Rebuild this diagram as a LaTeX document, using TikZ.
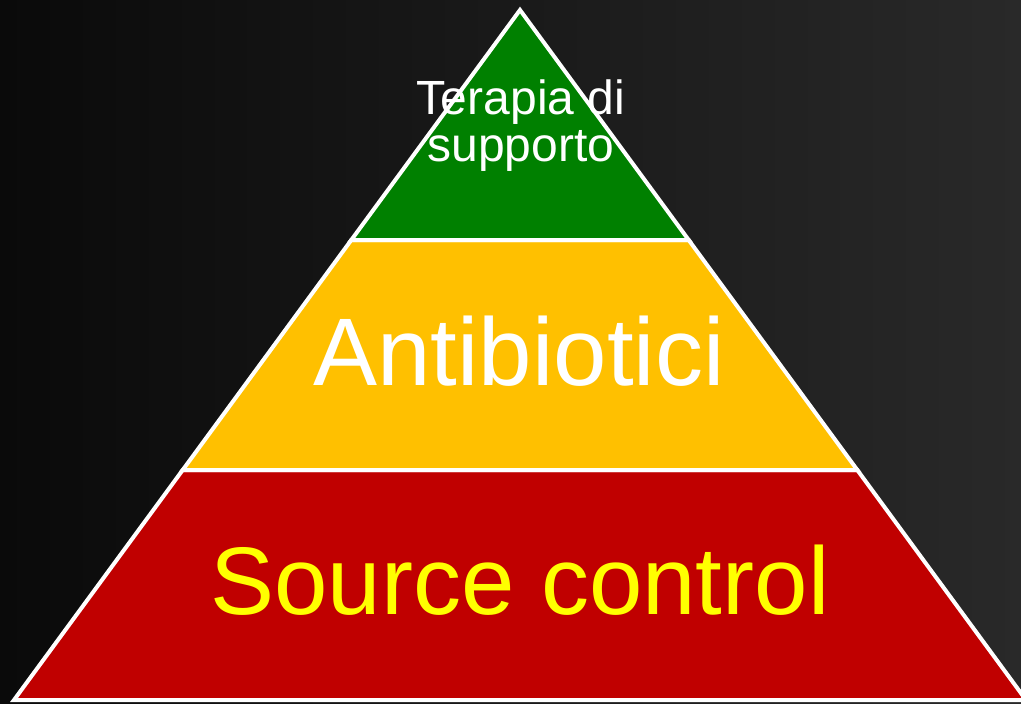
\documentclass[tikz,border=0pt]{standalone}
\usepackage{fontspec}
\setmainfont{Liberation Sans}
\definecolor{bgL}{HTML}{0A0A0A}
\definecolor{bgR}{HTML}{292929}
\definecolor{layG}{HTML}{008000}
\definecolor{layY}{HTML}{FFC000}
\definecolor{layR}{HTML}{C00000}
\definecolor{txtY}{HTML}{FFFF00}
\begin{document}
\begin{tikzpicture}[x=1pt,y=-1pt,
  layer/.style={draw=white,line width=4pt,line join=miter},
  lbl/.style={inner sep=0pt,anchor=base}]
\useasboundingbox (0,0) rectangle (1021,704);
\shade[left color=bgL,right color=bgR] (0,0) rectangle (1021,704);
\clip (0,0) rectangle (1021,704);
% corner coordinates
\coordinate (apex) at (520,10);
\coordinate (l1) at (351.3,240);
\coordinate (r1) at (688.7,240);
\coordinate (l2) at (182.7,470);
\coordinate (r2) at (857.3,470);
\coordinate (l3) at (14,700);
\coordinate (r3) at (1026,700);
% layers
\filldraw[layer,fill=layR] (l2) -- (r2) -- (r3) -- (l3) -- cycle;
\filldraw[layer,fill=layY] (l1) -- (r1) -- (r2) -- (l2) -- cycle;
\filldraw[layer,fill=layG] (apex) -- (r1) -- (l1) -- cycle;
% labels
\node[inner sep=0pt,anchor=north,align=center,text=white,font=\fontsize{48}{47}\selectfont] (top) at (521,80) {Terapia di\\supporto};
\node[lbl,text=white,font=\fontsize{96}{96}\selectfont] (mid) at (519,385) {Antibiotici};
\node[lbl,text=txtY,font=\fontsize{96}{96}\selectfont] (bot) at (520,614) {Source control};
\end{tikzpicture}
\end{document}
